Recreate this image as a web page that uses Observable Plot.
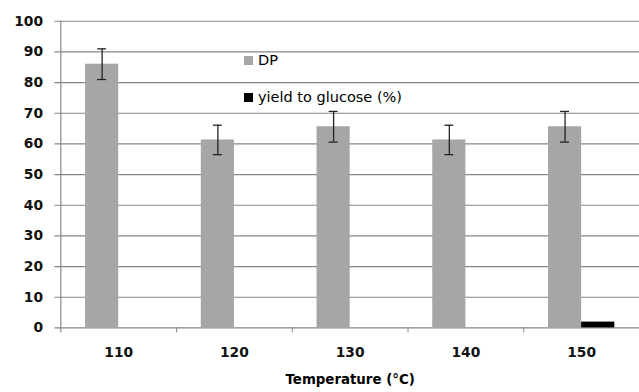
<!DOCTYPE html>
<html><head><meta charset="utf-8">
<script src="https://cdn.jsdelivr.net/npm/d3@7"></script>
<script src="https://cdn.jsdelivr.net/npm/@observablehq/plot@0.6"></script>
<style>
body{margin:0;background:#fff;font-family:"DejaVu Sans",sans-serif;}
#wrap{position:relative;width:639px;height:392px;overflow:hidden;}
.legend{position:absolute;left:244px;font-size:14.5px;color:#000;display:flex;align-items:center;height:18px;line-height:18px;white-space:nowrap;}
.sw{width:9px;height:9px;margin-right:5px;}
</style></head><body><div id="wrap"></div>
<script>
const temperatures = [110, 120, 130, 140, 150];
const dpValues = [86.0, 61.3, 65.6, 61.3, 65.6];
const dpErrors = [5.0, 4.8, 5.0, 4.8, 5.0];
const glucoseYield = [0, 0, 0, 0, 1.9];
const seriesNames = ["DP", "yield to glucose (%)"];
const seriesColors = ["#a6a6a6", "#000000"];
const yTicks = [0, 10, 20, 30, 40, 50, 60, 70, 80, 90, 100];
const xLabel = "Temperature (°C)";

const W = 646, H = 392, mL = 61, mR = 0, mT = 21, mB = 61;
const step = (W - mL - mR) / temperatures.length;
const padInner = 50 / 117;
const bw = step * (1 - padInner);
const half = bw / 2;

const rows = temperatures.map((t, i) => ({t, dp: dpValues[i], err: dpErrors[i], gy: glucoseYield[i]}));
const grid = "#878787";

const chart = Plot.plot({
  width: W, height: H,
  marginLeft: mL, marginRight: mR, marginTop: mT, marginBottom: mB,
  style: {fontFamily: "'DejaVu Sans', sans-serif", color: "#000", background: "#fff"},
  x: {type: "band", domain: temperatures, paddingInner: padInner, paddingOuter: padInner / 2, axis: null},
  y: {domain: [0, 100], axis: null},
  marks: [
    Plot.ruleY(yTicks, {stroke: grid, strokeWidth: 1.2, insetLeft: -6}),
    Plot.ruleX([temperatures[0]], {x: d => d, y1: 100, y2: 0, insetBottom: -5, dx: -step / 2, stroke: grid, strokeWidth: 1.2}),
    Plot.ruleX(temperatures.slice(1), {x: d => d, y1: 0, y2: 0, insetBottom: -5, dx: -step / 2, stroke: grid}),
    Plot.barY(rows, {x: "t", y: "dp", fill: seriesColors[0], insetRight: half}),
    Plot.barY(rows, {x: "t", y: "gy", fill: seriesColors[1], insetLeft: half}),
    Plot.ruleX(rows, {x: "t", y1: d => d.dp - d.err, y2: d => d.dp + d.err, dx: -half / 2, stroke: "#222", strokeWidth: 1.3}),
    Plot.tickY(rows, {x: "t", y: d => d.dp + d.err, insetLeft: half / 2 - 4.5, insetRight: half * 1.5 - 4.5, stroke: "#222", strokeWidth: 1.3}),
    Plot.tickY(rows, {x: "t", y: d => d.dp - d.err, insetLeft: half / 2 - 4.5, insetRight: half * 1.5 - 4.5, stroke: "#222", strokeWidth: 1.3}),
    Plot.axisY({ticks: yTicks, tickSize: 0, tickPadding: 18, fontSize: 14, fontWeight: "bold", fill: "#111"}),
    Plot.axisX({tickSize: 0, tickPadding: 19, fontSize: 14, fontWeight: "bold", fill: "#111", label: null}),
    Plot.text([xLabel], {frameAnchor: "bottom", lineAnchor: "middle", dy: 52, fontSize: 13.5, fontWeight: "bold", fill: "#000"})
  ]
});
const wrap = document.getElementById("wrap");
wrap.appendChild(chart);
const tops = [51, 88];
seriesNames.forEach((name, i) => {
  const d = document.createElement("div");
  d.className = "legend";
  d.style.top = tops[i] + "px";
  const s = document.createElement("span");
  s.className = "sw";
  s.style.background = seriesColors[i];
  d.appendChild(s);
  d.appendChild(document.createTextNode(name));
  wrap.appendChild(d);
});
</script></body></html>
